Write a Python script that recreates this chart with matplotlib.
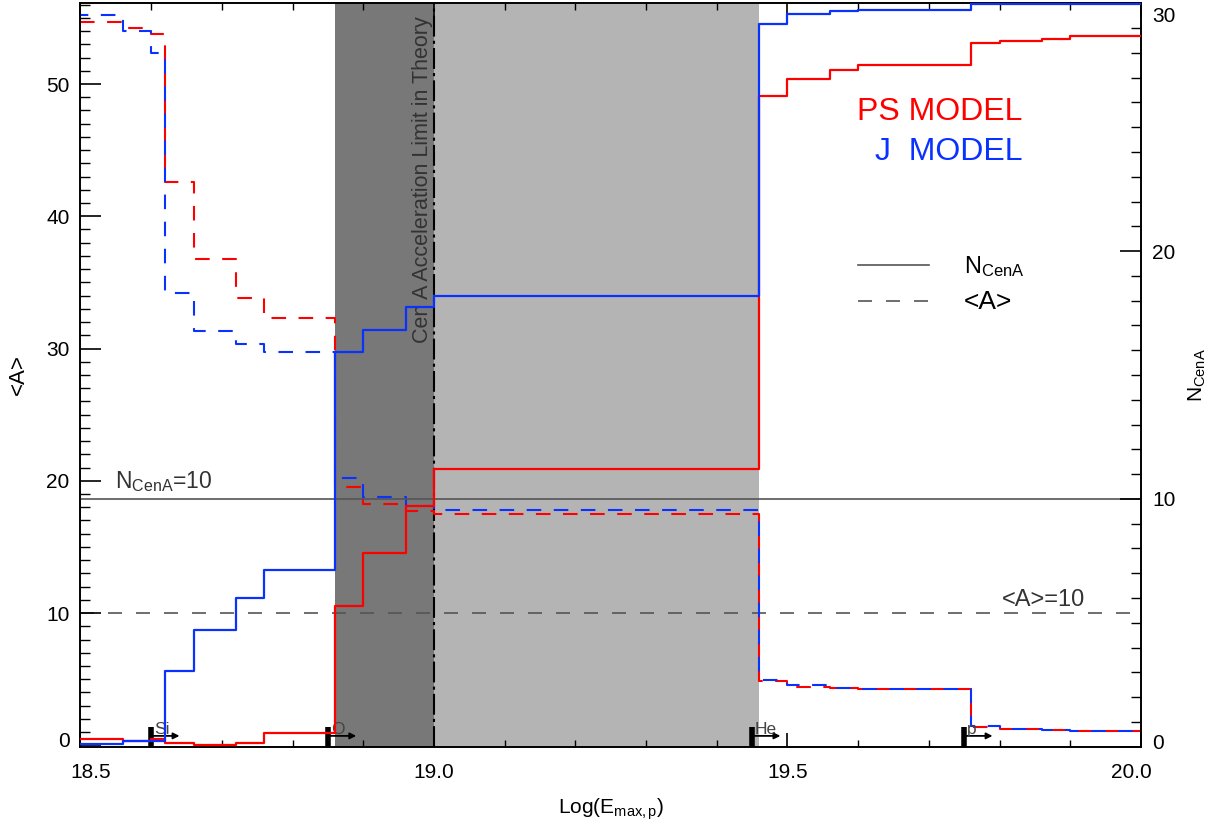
# Cen A composition / number of events vs maximum proton energy
import numpy as np
import matplotlib
matplotlib.use("Agg")
import matplotlib.pyplot as plt
from matplotlib.lines import Line2D
from matplotlib.transforms import ScaledTranslation

plt.rcParams['font.family'] = ['Liberation Sans', 'DejaVu Sans']
plt.rcParams['mathtext.fontset'] = 'custom'
plt.rcParams['mathtext.rm'] = 'Liberation Sans'
plt.rcParams['mathtext.it'] = 'Liberation Sans:italic'

# DATA
edges = [18.50, 18.56, 18.60, 18.62, 18.66, 18.72, 18.76, 18.86, 18.90, 18.96,
         19.00, 19.46, 19.50, 19.56, 19.60, 19.76, 19.80, 19.86, 19.90, 20.00]
# N_CenA (right axis)
ps_ncena = [0.31, 0.24, 0.31, 0.16, 0.08, 0.15, 0.57, 5.69, 7.81, 9.70,
            11.20, 26.24, 26.96, 27.30, 27.53, 28.38, 28.46, 28.54, 28.68]
j_ncena = [0.11, 0.22, 0.22, 3.07, 4.71, 5.98, 7.13, 15.93, 16.80, 17.76,
           18.19, 29.18, 29.57, 29.67, 29.74, 29.96, 29.97, 29.98, 29.99]
# <A> (left axis)
ps_mass = [54.72, 54.24, 53.79, 42.60, 36.80, 33.85, 32.30, 19.50, 18.24, 17.73,
           17.50, 4.86, 4.43, 4.30, 4.25, 1.40, 1.20, 1.14, 1.06]
j_mass = [55.20, 54.04, 52.33, 34.20, 31.34, 30.33, 29.77, 20.20, 18.74, 18.13,
          17.76, 4.96, 4.53, 4.35, 4.25, 1.46, 1.23, 1.16, 1.08]

dark_band = (18.86, 19.00)
light_band = (19.00, 19.46)
accel_limit = 19.0
n_ref = 10
a_ref = 10
elements = ['Si', 'O', 'He', 'p']
element_x = [18.60, 18.85, 19.45, 19.75]

RED = '#ff0000'
BLUE = '#0a32ff'
GREY = '#555555'
TXT = '#333333'


def post(vals):
    # repeat last value so step(where='post') reaches the last edge
    return np.append(vals, vals[-1])


def shift(label, dx, dy, fig):
    label.set_transform(label.get_transform() +
                        ScaledTranslation(dx / 72, dy / 72, fig.dpi_scale_trans))


def main():
    fig = plt.figure(figsize=(12.16, 8.30), dpi=100)
    ax = fig.add_axes([0.0662, 0.1004, 0.8721, 0.8956])
    ax2 = ax.twinx()

    ax.set_xlim(18.5, 20.0)
    ax.set_ylim(-0.1, 56.1)
    ax2.set_ylim(0, 30)

    # shaded bands and acceleration limit
    ax.axvspan(*dark_band, color='#787878', lw=0, zorder=0)
    ax.axvspan(*light_band, color='#b4b4b4', lw=0, zorder=0)
    ax.axvline(accel_limit, color='k', lw=1.5, linestyle=(0, (10, 2, 1.5, 2)), zorder=3)

    # reference levels
    ax2.axhline(n_ref, color=GREY, lw=1.2, zorder=1)
    ax.axhline(a_ref, color=GREY, lw=1.2, linestyle=(0, (8.4, 8.4)), zorder=1)

    # <A> dashed steps
    ax.step(edges, post(ps_mass), where='post', color=RED, lw=1.5,
            linestyle=(0, (7, 6)), zorder=4)
    ax.step(edges, post(j_mass), where='post', color=BLUE, lw=1.5,
            linestyle=(3, (7, 6)), zorder=4)

    # N_CenA solid steps
    ax2.step(edges, post(ps_ncena), where='post', color=RED, lw=1.6, zorder=4)
    ax2.step(edges, post(j_ncena), where='post', color=BLUE, lw=1.6, zorder=4)

    # element thresholds at the bottom
    trans = ax.get_xaxis_transform()
    for name, x in zip(elements, element_x):
        ax.plot([x, x], [0.0, 0.027], transform=trans, color='k', lw=4,
                solid_capstyle='butt', zorder=6, clip_on=False)
        ax.annotate('', xy=(x + 0.04, 0.0145), xytext=(x, 0.0145),
                    xycoords=trans, textcoords=trans, zorder=6,
                    arrowprops=dict(arrowstyle='-|>', lw=1.3, color='k',
                                    mutation_scale=9, shrinkA=0, shrinkB=0))
        ax.text(x + 0.004, 0.017, name, transform=trans, fontsize=12.5,
                color='#444444', va='baseline', ha='left', zorder=6)

    # annotations
    ax2.text(18.549, 10.45, r'N$_{\mathrm{CenA}}$=10', fontsize=16.5, color=TXT,
             va='baseline', ha='left')
    ax.text(19.803, 10.5, '<A>=10', fontsize=17, color=TXT,
            va='baseline', ha='left')
    ax.text(accel_limit - 0.001, 0.982, 'Cen A Acceleration Limit in Theory',
            transform=trans, rotation=90, fontsize=15.5, color=TXT,
            ha='right', va='top', zorder=5)

    ax.text(0.888, 0.854, 'PS MODEL', transform=ax.transAxes, fontsize=23,
            color=RED, ha='right', va='center')
    ax.text(0.888, 0.800, 'J  MODEL', transform=ax.transAxes, fontsize=23,
            color=BLUE, ha='right', va='center')

    handles = [Line2D([], [], color=GREY, lw=1.2),
               Line2D([], [], color=GREY, lw=1.2, linestyle=(0, (8.4, 8.4)))]
    leg = ax2.legend(handles, [r'N$_{\mathrm{CenA}}$', '<A>'], loc='center left',
                     bbox_to_anchor=(0.733, 0.622), frameon=False, fontsize=17,
                     handlelength=3.0, handletextpad=1.5, borderpad=0,
                     borderaxespad=0, labelspacing=0.45)
    leg.get_texts()[1].set_fontsize(19)

    # axes, ticks, labels
    ax.set_xticks(np.arange(18.5, 20.01, 0.5))
    ax.set_xticks(np.arange(18.5, 20.01, 0.1), minor=True)
    ax.set_xticklabels(['18.5', '19.0', '19.5', '20.0'])
    ax.set_yticks(np.arange(0, 51, 10))
    ax.set_yticks(np.arange(0, 57, 1), minor=True)
    ax2.set_yticks(np.arange(0, 31, 10))
    ax2.set_yticks(np.arange(0, 31, 1), minor=True)

    ax.tick_params(axis='x', which='both', direction='in', top=True, bottom=True,
                   labelsize=15, pad=12)
    ax.tick_params(axis='x', which='major', length=10, width=1.2)
    ax.tick_params(axis='x', which='minor', length=5, width=1.0)
    ax.tick_params(axis='y', which='both', direction='in', left=True, right=False,
                   labelsize=15, pad=8)
    ax.tick_params(axis='y', which='major', length=15, width=1.2)
    ax.tick_params(axis='y', which='minor', length=7.5, width=1.0)
    ax2.tick_params(axis='y', which='both', direction='in', right=True,
                    labelsize=15, pad=8)
    ax2.tick_params(axis='y', which='major', length=15, width=1.2)
    ax2.tick_params(axis='y', which='minor', length=7.5, width=1.0)

    for a in (ax, ax2):
        for s in a.spines.values():
            s.set_linewidth(1.2)

    # keep edge tick labels inside, as in the original
    xt = ax.xaxis.get_major_ticks()
    shift(xt[0].label1, 7, 0, fig)
    shift(xt[-1].label1, -7, 0, fig)
    shift(ax.yaxis.get_major_ticks()[0].label1, 0, 4, fig)
    yt2 = ax2.yaxis.get_major_ticks()
    shift(yt2[0].label2, 0, 4, fig)
    shift(yt2[-1].label2, 0, -8, fig)

    ax.set_xlabel(r'Log(E$_{\mathrm{max,p}}$)', fontsize=15, labelpad=10)
    ax.set_ylabel('<A>', fontsize=16, labelpad=12)
    ax2.set_ylabel(r'N$_{\mathrm{CenA}}$', fontsize=15, labelpad=8)

    fig.savefig('out.png', dpi=100)


if __name__ == '__main__':
    main()
